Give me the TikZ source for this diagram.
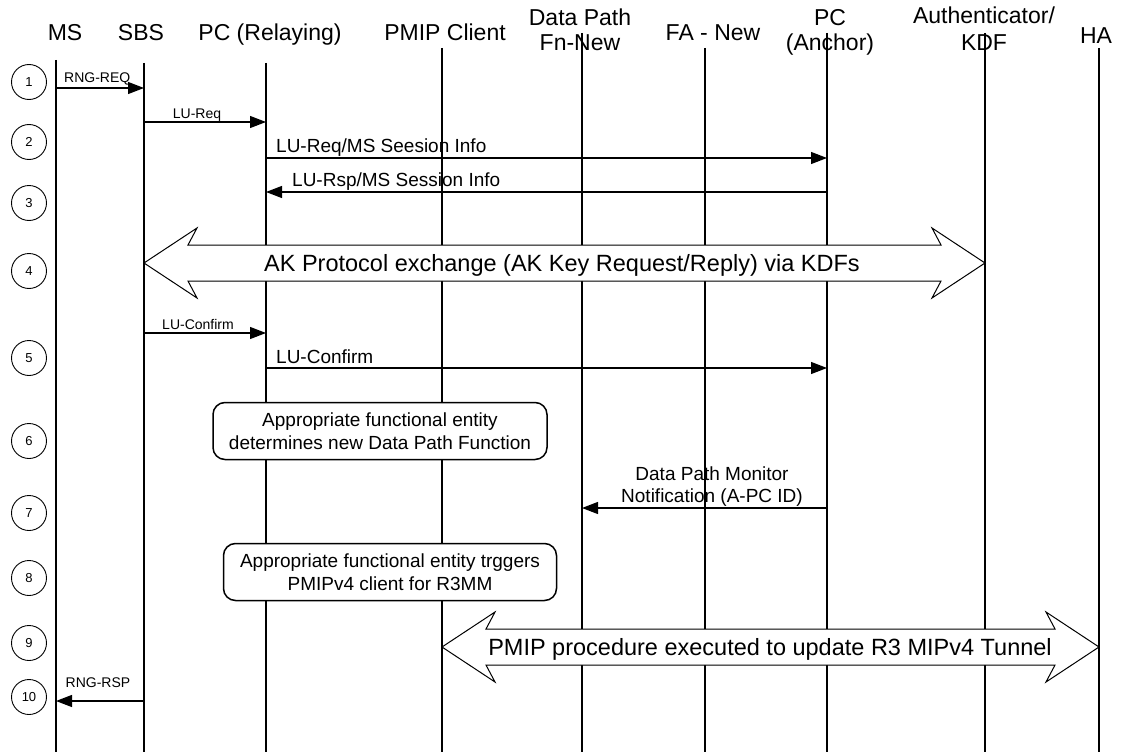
\documentclass[tikz,border=0pt]{standalone}
\usepackage{fontspec}
\setmainfont{Liberation Sans}
\usepackage{tikz}
\usetikzlibrary{arrows.meta, calc}

\begin{document}
\begin{tikzpicture}[x=1pt, y=-1pt, >={Triangle[length=16pt, width=12pt]}]

			\tikzstyle{head}=[font=\fontsize{23}{25}\selectfont, align=center, anchor=base, inner sep=0pt]
			\tikzstyle{stepnum}=[circle, draw=black, line width=0.9pt, minimum size=35pt, inner sep=0pt, font=\fontsize{13}{15}\selectfont]
			\tikzstyle{small}=[font=\fontsize{14}{16}\selectfont, anchor=base, inner sep=0pt]
			\tikzstyle{msgtext}=[font=\fontsize{19}{21.5}\selectfont, align=center, anchor=base west, inner sep=0pt]
			\tikzstyle{action}=[rectangle, rounded corners=12pt, draw=black, line width=1.5pt, fill=white, minimum width=334pt, minimum height=57pt, align=center, font=\fontsize{19}{23}\selectfont]
			\tikzstyle{bigtext}=[font=\fontsize{23.5}{27}\selectfont, anchor=base, inner sep=0pt]
			\tikzstyle{block}=[draw=black, line width=1pt, fill=white, line join=miter]
			\tikzstyle{life}=[line width=1.2pt]
			\tikzstyle{msg}=[->, line width=1.2pt]

			\def \xms {56}
			\def \xsbs {144}
			\def \xpcr {266}
			\def \xpmip {442}
			\def \xdp {582}
			\def \xfa {705}
			\def \xpca {827}
			\def \xauth {985}
			\def \xha {1099}
			\def \ybot {752}

			\useasboundingbox (0,0) rectangle (1122,752);

			% entities
			\node at (65,41) (ms) [head] {MS};
			\node at (141,41) (sbs) [head] {SBS};
			\node at (270,41) (pcr) [head] {PC (Relaying)};
			\node at (445,41) (pmip) [head] {PMIP Client};
			\node at (580,51) (dp) [head] {Data Path\\Fn-New};
			\node at (713,41) (fa) [head] {FA - New};
			\node at (830,51) (pca) [head] {PC\\(Anchor)};
			\node at (984,51) (auth) [head, font=\fontsize{23}{27}\selectfont] {Authenticator/\\KDF};
			\node at (1096,44) (ha) [head] {HA};

			\coordinate (ms-top) at (\xms,60);     \coordinate (ms-bot) at (\xms,\ybot);
			\coordinate (sbs-top) at (\xsbs,63);   \coordinate (sbs-bot) at (\xsbs,\ybot);
			\coordinate (pcr-top) at (\xpcr,63);   \coordinate (pcr-bot) at (\xpcr,\ybot);
			\coordinate (pmip-top) at (\xpmip,48); \coordinate (pmip-bot) at (\xpmip,\ybot);
			\coordinate (dp-top) at (\xdp,33);     \coordinate (dp-bot) at (\xdp,\ybot);
			\coordinate (fa-top) at (\xfa,48);     \coordinate (fa-bot) at (\xfa,\ybot);
			\coordinate (pca-top) at (\xpca,33);   \coordinate (pca-bot) at (\xpca,\ybot);
			\coordinate (auth-top) at (\xauth,33); \coordinate (auth-bot) at (\xauth,\ybot);
			\coordinate (ha-top) at (\xha,48);     \coordinate (ha-bot) at (\xha,\ybot);

			\draw[life] (ms-top) -- (ms-bot);
			\draw[life] (sbs-top) -- (sbs-bot);
			\draw[life] (pcr-top) -- (pcr-bot);
			\draw[life] (pmip-top) -- (pmip-bot);
			\draw[life] (dp-top) -- (dp-bot);
			\draw[life] (fa-top) -- (fa-bot);
			\draw[life] (pca-top) -- (pca-bot);
			\draw[life] (auth-top) -- (auth-bot);
			\draw[life] (ha-top) -- (ha-bot);

			% step numbers
			\node at (29,82) (s1) [stepnum] {1};
			\node at (29,142) (s2) [stepnum] {2};
			\node at (29,203) (s3) [stepnum] {3};
			\node at (29,271) (s4) [stepnum] {4};
			\node at (29,358) (s5) [stepnum] {5};
			\node at (29,441) (s6) [stepnum] {6};
			\node at (29,513) (s7) [stepnum] {7};
			\node at (29,578) (s8) [stepnum] {8};
			\node at (29,643) (s9) [stepnum] {9};
			\node at (29,697) (s10) [stepnum] {10};

			% messages
			\coordinate (rngreq-a) at (\xms,88);    \coordinate (rngreq-b) at (\xsbs,88);
			\coordinate (lureq-a) at (\xsbs,122);   \coordinate (lureq-b) at (\xpcr,122);
			\coordinate (lureqms-a) at (\xpcr,158); \coordinate (lureqms-b) at (\xpca,158);
			\coordinate (lursp-a) at (\xpca,192);   \coordinate (lursp-b) at (\xpcr,192);
			\coordinate (luconf-a) at (\xsbs,333);  \coordinate (luconf-b) at (\xpcr,333);
			\coordinate (luconfa-a) at (\xpcr,368); \coordinate (luconfa-b) at (\xpca,368);
			\coordinate (dpmon-a) at (\xpca,508);   \coordinate (dpmon-b) at (\xdp,508);
			\coordinate (rngrsp-a) at (\xsbs,701);  \coordinate (rngrsp-b) at (\xms,701);

			\draw[msg] (rngreq-a) -- (rngreq-b);
			\draw[msg] (lureq-a) -- (lureq-b);
			\draw[msg] (lureqms-a) -- (lureqms-b);
			\draw[msg] (lursp-a) -- (lursp-b);
			\draw[msg] (luconf-a) -- (luconf-b);
			\draw[msg] (luconfa-a) -- (luconfa-b);
			\draw[msg] (dpmon-a) -- (dpmon-b);
			\draw[msg] (rngrsp-a) -- (rngrsp-b);

			\node at (64,83) (rngreq) [small, anchor=base west] {RNG-REQ};
			\node at (197,118) (lureq) [small] {LU-Req};
			\node at (276,152) (lureqms) [msgtext] {LU-Req/MS Seesion Info};
			\node at (292,186) (lursp) [msgtext] {LU-Rsp/MS Session Info};
			\node at (198,329) (luconf) [small] {LU-Confirm};
			\node at (276,363) (luconfa) [msgtext] {LU-Confirm};
			\node at (712,502) (dpmon) [msgtext, anchor=base] {Data Path Monitor\\Notification (A-PC ID)};
			\node at (98,687) (rngrsp) [small] {RNG-RSP};

			% actions
			\node at (380,431) (newdp) [action] {Appropriate functional entity\\determines new Data Path Function};
			\node at (390,572) (trigger) [action, minimum width=333pt] {Appropriate functional entity trggers\\PMIPv4 client for R3MM};

			% block arrows
			\coordinate (ak-l) at (\xsbs,263);
			\coordinate (ak-r) at (\xauth,263);
			\draw[block] (ak-l) -- ++(53,-35) -- ++(-9,17) -- ($(ak-r)+(-44,-18)$) -- ++(-9,-17)
				-- (ak-r) -- ++(-53,35) -- ++(9,-17) -- ($(ak-l)+(44,18)$) -- ++(9,17) -- cycle;
			\node at (562,271) (aktext) [bigtext] {AK Protocol exchange (AK Key Request/Reply) via KDFs};

			\coordinate (pmipx-l) at (\xpmip,647);
			\coordinate (pmipx-r) at (\xha,647);
			\draw[block] (pmipx-l) -- ++(53,-35) -- ++(-9,17) -- ($(pmipx-r)+(-44,-18)$) -- ++(-9,-17)
				-- (pmipx-r) -- ++(-53,35) -- ++(9,-17) -- ($(pmipx-l)+(44,18)$) -- ++(9,17) -- cycle;
			\node at (770,655) (pmiptext) [bigtext] {PMIP procedure executed to update R3 MIPv4 Tunnel};
		\end{tikzpicture}
\end{document}
